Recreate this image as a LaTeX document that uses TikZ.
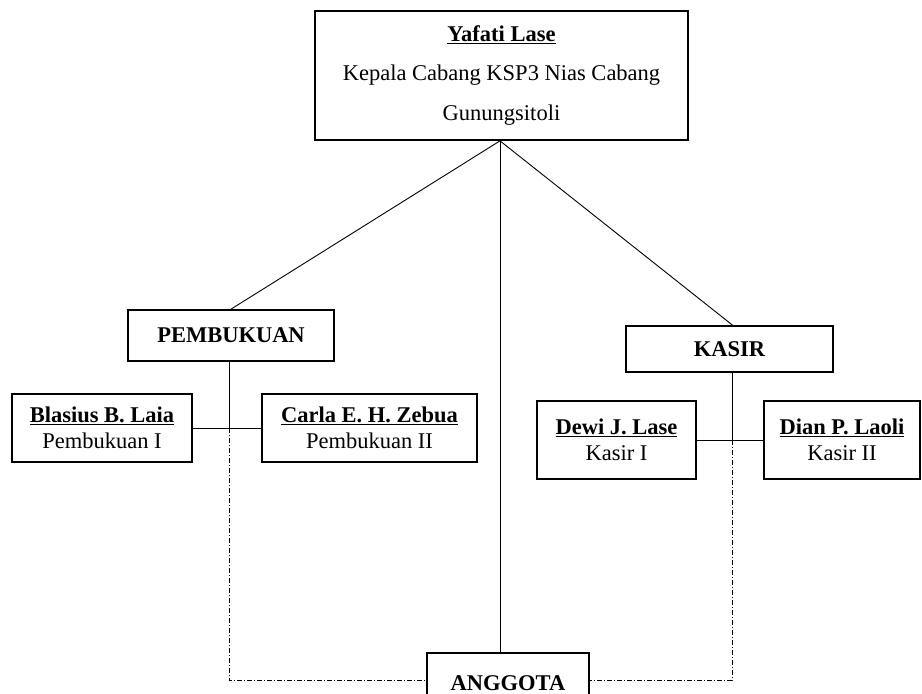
\documentclass[tikz,border=0pt]{standalone}
\usepackage{fontspec}
\setmainfont{Liberation Serif}
\begin{document}
\begin{tikzpicture}[x=1pt,y=-1pt,
  every node/.style={font=\fontsize{22.5}{26}\selectfont},
  orgbox/.style={draw, line width=1.7pt, inner sep=0pt, align=center},
  conn/.style={line width=0.9pt},
  dashconn/.style={line width=0.9pt, dash pattern=on 5pt off 2pt on 1pt off 2pt}]
\useasboundingbox (0,0) rectangle (922,694);

\node[orgbox, minimum width=373pt, minimum height=129pt,
  font=\fontsize{22.5}{39.5}\selectfont] (top) at (501.5,75.5)
  {\textbf{\underline{Yafati Lase}}\\Kepala Cabang KSP3 Nias Cabang\\Gunungsitoli};

\node[orgbox, minimum width=206pt, minimum height=51pt] (pemb) at (231,335.5) {\textbf{PEMBUKUAN}};
\node[orgbox, minimum width=207pt, minimum height=46pt] (kasir) at (729.5,349) {\textbf{KASIR}};

\node[orgbox, minimum width=180pt, minimum height=68pt] (blasius) at (102,428)
  {\textbf{\underline{Blasius B. Laia}}\\Pembukuan I};
\node[orgbox, minimum width=215pt, minimum height=68pt] (carla) at (369.5,428)
  {\textbf{\underline{Carla E. H. Zebua}}\\Pembukuan II};
\node[orgbox, minimum width=159pt, minimum height=78pt] (dewi) at (616.5,440)
  {\textbf{\underline{Dewi J. Lase}}\\Kasir I};
\node[orgbox, minimum width=156pt, minimum height=78pt] (dian) at (842,440)
  {\textbf{\underline{Dian P. Laoli}}\\Kasir II};

\node[orgbox, minimum width=162pt, minimum height=60pt] (anggota) at (508,683) {\textbf{ANGGOTA}};

\coordinate (apex) at ([xshift=-1.5pt]top.south);
\draw[conn] (apex) -- (pemb.north);
\draw[conn] (apex) -- ([xshift=3pt]kasir.north);
\draw[conn] (apex) -- (apex |- anggota.north);

\coordinate (pj) at ([xshift=-2pt]pemb.south |- blasius.east);
\coordinate (kj) at ([xshift=2.5pt]kasir.south |- dewi.east);
\draw[conn] ([xshift=-2pt]pemb.south) -- (pj);
\draw[conn] (blasius.east) -- (carla.west);
\draw[conn] ([xshift=2.5pt]kasir.south) -- (kj);
\draw[conn] (dewi.east) -- (dian.west);

\draw[dashconn] (pj) -- ([yshift=3pt]pj |- anggota.west) -- ([yshift=3pt]anggota.west);
\draw[dashconn] (kj) -- ([yshift=3pt]kj |- anggota.east) -- ([yshift=3pt]anggota.east);
\end{tikzpicture}
\end{document}
